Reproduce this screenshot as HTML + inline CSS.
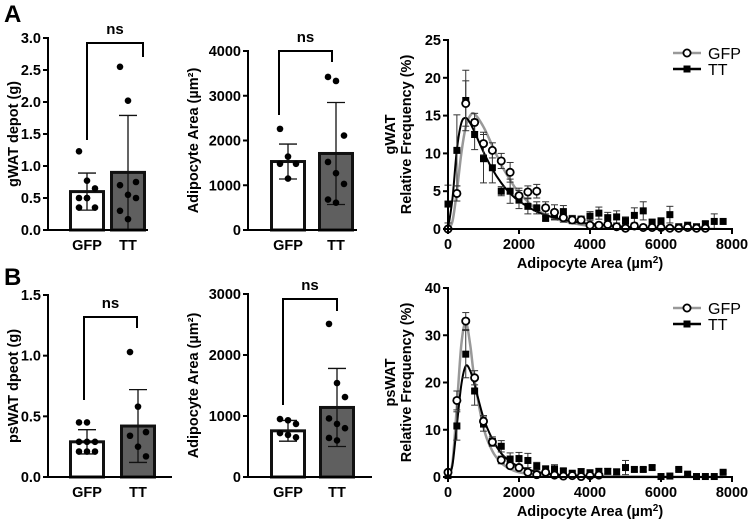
<!DOCTYPE html>
<html><head><meta charset="utf-8">
<style>
body{margin:0;background:#fff;}
svg{display:block;font-family:"Liberation Sans",Arial,sans-serif;font-weight:bold;}
</style></head>
<body>
<svg id="fig" width="750" height="525" viewBox="0 0 750 525" xmlns="http://www.w3.org/2000/svg">
<text x="4" y="22" font-size="24">A</text>
<text x="4" y="285" font-size="24">B</text>
</svg>
<script>
// ---- data ----
const groups = ["GFP","TT"];
const a1Means = [0.6, 0.9];
const a1Err = [0.29, 0.89];
const a1GfpPts = [1.23,0.77,0.65,0.5,0.5,0.35,0.35,0.5];
const a1TtPts = [2.55,2.02,0.75,0.7,0.55,0.5,0.3,0.17];
const a1Ticks = ["0.0","0.5","1.0","1.5","2.0","2.5","3.0"];
const a2Means = [1530, 1710];
const a2Err = [390, 1140];
const a2GfpPts = [2260,1640,1480,1480,1150];
const a2TtPts = [3420,3330,2110,1520,1270,1030,680,610];
const a2Ticks = ["0","1000","2000","3000","4000"];
const b1Means = [0.29, 0.42];
const b1Err = [0.1, 0.3];
const b1GfpPts = [0.45,0.45,0.29,0.29,0.29,0.21,0.21,0.21];
const b1TtPts = [1.03,0.58,0.37,0.34,0.25,0.17];
const b1Ticks = ["0.0","0.5","1.0","1.5"];
const b2Means = [757, 1140];
const b2Err = [170, 640];
const b2GfpPts = [950,930,870,720,690,650];
const b2TtPts = [2510,1540,1310,960,870,800,640,600];
const b2Ticks = ["0","1000","2000","3000"];

const binX = [0,250,500,750,1000,1250,1500,1750,2000,2250,2500,2750,3000,3250,3500,3750,4000,4250,4500,4750,5000,5250,5500,5750,6000,6250,6500,6750,7000,7250,7500,7750];
const aGfp = [0,4.7,16.6,14.1,11.3,10.4,9,7.5,4.4,4.9,5,2.8,2.2,1.5,1.2,1.2,0.5,0.5,0.6,0.3,0.1,0.4,0.2,0.2,0.2,0.1,0.1,0.2,0.1,0.1];
const aGfpErr = [0,1,3,1.2,1.5,1,1,1.3,1,0.8,0.9,0.8,1,0.6,0.5,0.5,0.3,0.3,0.3,0.2,0.1,0.2,0.1,0.1,0.1,0.1,0.1,0.1,0.1,0.1];
const aTt = [3.3,10.4,17,12.5,9.3,8.1,5,5,3.9,3,2.8,1.4,1.9,2.3,1.3,1.2,1.7,2.1,1.5,1.6,1.1,1.8,2.4,0.9,1.0,1.9,0.3,0.5,0.3,0.7,1.0,1.0];
const aTtErr = [2.5,4.7,4,2,3.2,2,0.6,1.6,1.2,1,0.8,0.3,0.6,0.8,0.5,0.5,0.6,0.8,0.7,0.8,0.5,1,1.2,0.4,0.5,1.1,0.2,0.2,0.2,0.3,1,0.1];
const aGfpFitX = [0,125,250,375,500,625,750,1000,1250,1500,1750,2000,2500,3000,3500,4000,5000,6000,7250];
const aGfpFitY = [0,1,5,10,13.5,15,15.2,13.5,11,8.5,6.5,4.8,2.6,1.4,0.8,0.4,0.1,0.02,0];
const aTtFitX = [0,125,250,375,500,625,750,1000,1250,1500,1750,2000,2500,3000,3500,4000,5000,6000,7750];
const aTtFitY = [0,4,10.5,14,14.7,14,12.8,10.2,7.9,6.1,4.7,3.7,2.3,1.5,1,0.7,0.3,0.1,0];
const bGfp = [1,16.2,33,21,11.8,7.4,3.6,2.4,2.0,1.0,0.5,1.0,0.4,0.2,0.3,0.1,0.3,0.4];
const bGfpErr = [0.5,2,1.8,1.5,1.2,0.8,0.8,0.5,0.5,0.4,0.3,0.3,0.2,0.1,0.2,0.1,0.1,0.2];
const bTt = [0.3,10.8,26,18.2,11.2,7.5,6.5,3.8,3.9,3.5,2.3,1.6,1.7,1.3,0.8,1.1,0.9,1.2,1.2,1.1,2.0,1.6,1.6,2.0,0.1,0.2,1.6,0.6,0.1,0.1,0.1,1.0];
const bTtErr = [0.3,3,5,3,1.5,1,1.2,1.3,1.3,1.5,0.8,0.8,0.9,0.5,0.4,0.7,0.6,0.6,0.6,0.6,1.5,0.5,0.4,0.4,0.1,0.1,0.3,0.3,0.1,0.1,0.1,0.3];
const bGfpFitX = [0,125,250,375,500,625,750,1000,1250,1500,1750,2000,2500,3000,4000,5000,7750];
const bGfpFitY = [0,3,15,28,32.8,28,20.5,10.5,5.5,3,1.7,1,0.4,0.15,0.02,0,0];
const bTtFitX = [0,125,250,375,500,625,750,1000,1250,1500,1750,2000,2500,3000,4000,5000,7750];
const bTtFitY = [0,2.5,11,19.5,23.5,22.5,19.5,12.5,8,5,3.3,2.2,1.1,0.5,0.15,0.05,0];
const freqXTicks = ["0","2000","4000","6000","8000"];

// ---- helpers ----
const svg = document.getElementById('fig');
const NS = 'http://www.w3.org/2000/svg';
const TICK = 14.5, TITLE = 14.5;
function mk(tag, attrs, parent){
  const e = document.createElementNS(NS, tag);
  for (const k in attrs) e.setAttribute(k, attrs[k]);
  (parent||svg).appendChild(e);
  return e;
}
function txt(x,y,s,size,anchor,parent){
  const t = mk('text',{x:x,y:y,'font-size':size,'text-anchor':anchor||'middle'},parent);
  t.textContent = s;
  return t;
}

function barChart(cfg){
  const g = mk('g',{});
  
  
  const vmax = parseFloat(cfg.ticks[cfg.ticks.length-1]);
  const y = v => cfg.y0 - (v/vmax)*(cfg.y0-cfg.yTop);
  cfg.means.forEach((m,i)=>{
    const bx = cfg.barX[i];
    const r = mk('rect',{x:bx+1.5,y:y(m),width:cfg.barW-3,height:cfg.y0-y(m),fill:i?'#5f5f5f':'#fff',stroke:'#111','stroke-width':3},g);
    
    
    const cx = bx+cfg.barW/2;
    const hi = y(m+cfg.err[i]), lo = y(Math.max(0,m-cfg.err[i]));
    mk('line',{x1:cx,x2:cx,y1:hi,y2:lo,stroke:'#111','stroke-width':1.3},g);
    mk('line',{x1:cx-9,x2:cx+9,y1:hi,y2:hi,stroke:'#111','stroke-width':1.3},g);
    mk('line',{x1:cx-9,x2:cx+9,y1:lo,y2:lo,stroke:'#111','stroke-width':1.3},g);
    const pts = cfg.pts[i];
    pts.forEach((p,j)=>{
      const off = pts.length>1 ? ((j%3)-1)*8 : 0;
      const c = mk('circle',{cx:cx+off,cy:y(p),r:3.3,fill:'#000'},g);
      
      
    });
    const l = txt(cx, cfg.y0+20, groups[i], TICK, 'middle', g);
    
    
  });
  mk('line',{x1:cfg.x0,x2:cfg.x0,y1:cfg.yTop-1,y2:cfg.y0+1,stroke:'#000','stroke-width':2},g);
  mk('line',{x1:cfg.x0-1,x2:cfg.xEnd,y1:cfg.y0,y2:cfg.y0,stroke:'#000','stroke-width':2},g);
  cfg.ticks.forEach(t=>{
    const ty = y(parseFloat(t));
    mk('line',{x1:cfg.x0-5,x2:cfg.x0,y1:ty,y2:ty,stroke:'#000','stroke-width':2},g);
    const tl = txt(cfg.x0-7, ty+5, t, TICK, 'end', g);
    
    
  });
  const yl = txt(0,0,cfg.ylabel,TITLE,'middle',g);
  yl.setAttribute('transform','translate('+cfg.ylx+','+((cfg.yTop+cfg.y0)/2)+') rotate(-90)');
  
  
  const b = cfg.br;
  const br = mk('path',{d:`M${b.l},${b.lb} V${b.top} H${b.r} V${b.rb}`,fill:'none',stroke:'#000','stroke-width':2},g);
  
  
  const ns = txt((b.l+b.r)/2, b.top-9, 'ns', 15, 'middle', g);
  
  
}

function smoothPath(pts){
  let d = 'M'+pts[0][0]+','+pts[0][1];
  for (let i=0;i<pts.length-1;i++){
    const p0=pts[i-1]||pts[i], p1=pts[i], p2=pts[i+1], p3=pts[i+2]||p2;
    const c1=[p1[0]+(p2[0]-p0[0])/6, p1[1]+(p2[1]-p0[1])/6];
    const c2=[p2[0]-(p3[0]-p1[0])/6, p2[1]-(p3[1]-p1[1])/6];
    d += ` C${c1[0]},${c1[1]} ${c2[0]},${c2[1]} ${p2[0]},${p2[1]}`;
  }
  return d;
}

function freqChart(cfg){
  const g = mk('g',{});
  
  
  const xs = v => cfg.x0 + v/8000*(cfg.x1-cfg.x0);
  const ymax = cfg.yTicks[cfg.yTicks.length-1];
  const ys = v => cfg.y0 - v/ymax*(cfg.y0-cfg.yTop);
  const gf = mk('path',{d:smoothPath(cfg.gfpFitX.map((x,i)=>[xs(x),ys(cfg.gfpFitY[i])])),fill:'none',stroke:'#999','stroke-width':2.5},g);
  
  
  const tf = mk('path',{d:smoothPath(cfg.ttFitX.map((x,i)=>[xs(x),ys(cfg.ttFitY[i])])),fill:'none',stroke:'#000','stroke-width':2},g);
  
  
  function errs(vals, er){
    vals.forEach((v,i)=>{
      const cx = xs(binX[i]); const hi=ys(v+er[i]), lo=ys(Math.max(0,v-er[i]));
      if (er[i] < 0.15) return;
      mk('line',{x1:cx,x2:cx,y1:hi,y2:lo,stroke:'#333','stroke-width':1},g);
      mk('line',{x1:cx-3.5,x2:cx+3.5,y1:hi,y2:hi,stroke:'#333','stroke-width':1},g);
      mk('line',{x1:cx-3.5,x2:cx+3.5,y1:lo,y2:lo,stroke:'#333','stroke-width':1},g);
    });
  }
  errs(cfg.tt, cfg.ttErr); errs(cfg.gfp, cfg.gfpErr);
  cfg.tt.forEach((v,i)=>{
    const r = mk('rect',{x:xs(binX[i])-3.5,y:ys(v)-3.5,width:7,height:7,fill:'#000'},g);
    
    
  });
  cfg.gfp.forEach((v,i)=>{
    const c = mk('circle',{cx:xs(binX[i]),cy:ys(v),r:3.6,fill:'#fff',stroke:'#000','stroke-width':1.8},g);
    
    
  });
  mk('line',{x1:cfg.x0,x2:cfg.x0,y1:cfg.yTop-1,y2:cfg.y0+1,stroke:'#000','stroke-width':2},g);
  mk('line',{x1:cfg.x0-1,x2:cfg.x1+1,y1:cfg.y0,y2:cfg.y0,stroke:'#000','stroke-width':2},g);
  cfg.yTicks.forEach(t=>{
    const ty=ys(t);
    mk('line',{x1:cfg.x0-5,x2:cfg.x0,y1:ty,y2:ty,stroke:'#000','stroke-width':2},g);
    const tl = txt(cfg.x0-7, ty+5, String(t), TICK, 'end', g);
    
    
  });
  freqXTicks.forEach(t=>{
    const tx=xs(parseFloat(t));
    mk('line',{x1:tx,x2:tx,y1:cfg.y0,y2:cfg.y0+5,stroke:'#000','stroke-width':2},g);
    const tl = txt(tx, cfg.y0+20, t, TICK, 'middle', g);
    
    
  });
  const xt = mk('text',{x:(cfg.x0+cfg.x1)/2,y:cfg.y0+39,'font-size':TITLE,'text-anchor':'middle'},g);
  xt.innerHTML = 'Adipocyte Area (µm<tspan font-size="10" dy="-5">2</tspan><tspan dy="5">)</tspan>';
  
  
  const cy = (cfg.yTop+cfg.y0)/2;
  const y1 = txt(0,0,cfg.depot,TITLE,'middle',g);
  y1.setAttribute('transform','translate('+(cfg.x0-53)+','+cy+') rotate(-90)');
  
  
  const y2 = txt(0,0,'Relative Frequency (%)',TITLE,'middle',g);
  y2.setAttribute('transform','translate('+(cfg.x0-37)+','+cy+') rotate(-90)');
  
  
  const lg = mk('g',{},g);
  
  
  mk('line',{x1:cfg.lx-14,x2:cfg.lx+14,y1:cfg.ly,y2:cfg.ly,stroke:'#999','stroke-width':2.5},lg);
  mk('circle',{cx:cfg.lx,cy:cfg.ly,r:3.6,fill:'#fff',stroke:'#000','stroke-width':1.8},lg);
  txt(cfg.lx+21, cfg.ly+6, 'GFP', 16, 'start', lg).setAttribute('font-weight','normal');
  mk('line',{x1:cfg.lx-14,x2:cfg.lx+14,y1:cfg.ly+16,y2:cfg.ly+16,stroke:'#000','stroke-width':2.5},lg);
  mk('rect',{x:cfg.lx-3.5,y:cfg.ly+12.5,width:7,height:7,fill:'#000'},lg);
  txt(cfg.lx+21, cfg.ly+22, 'TT', 16, 'start', lg).setAttribute('font-weight','normal');
}

barChart({name:'gwat-depot-chart',x0:48,xEnd:148,yTop:38,y0:230,barX:[69,110],barW:36,means:a1Means,err:a1Err,pts:[a1GfpPts,a1TtPts],ticks:a1Ticks,ylabel:'gWAT depot (g)',ylx:18,br:{l:87,r:143,top:43,lb:140,rb:57}});
barChart({name:'gwat-area-chart',x0:248,xEnd:357,yTop:51,y0:230,barX:[270,318],barW:36,means:a2Means,err:a2Err,pts:[a2GfpPts,a2TtPts],ticks:a2Ticks,ylabel:'Adipocyte Area (µm²)',ylx:198,br:{l:279,r:332,top:51,lb:115,rb:62}});
barChart({name:'pswat-depot-chart',x0:48,xEnd:172,yTop:295,y0:477,barX:[69,120],barW:36,means:b1Means,err:b1Err,pts:[b1GfpPts,b1TtPts],ticks:b1Ticks,ylabel:'psWAT dpeot (g)',ylx:18,br:{l:84,r:137,top:317,lb:400,rb:328}});
barChart({name:'pswat-area-chart',x0:248,xEnd:372,yTop:294,y0:477,barX:[270,319],barW:36,means:b2Means,err:b2Err,pts:[b2GfpPts,b2TtPts],ticks:b2Ticks,ylabel:'Adipocyte Area (µm²)',ylx:198,br:{l:283,r:337,top:299,lb:405,rb:311}});

freqChart({name:'gwat-frequency-chart',x0:448,x1:732,yTop:40,y0:229,yTicks:[0,5,10,15,20,25],gfp:aGfp,gfpErr:aGfpErr,tt:aTt,ttErr:aTtErr,gfpFitX:aGfpFitX,gfpFitY:aGfpFitY,ttFitX:aTtFitX,ttFitY:aTtFitY,depot:'gWAT',lx:687,ly:53});
freqChart({name:'pswat-frequency-chart',x0:448,x1:732,yTop:288,y0:477,yTicks:[0,10,20,30,40],gfp:bGfp,gfpErr:bGfpErr,tt:bTt,ttErr:bTtErr,gfpFitX:bGfpFitX,gfpFitY:bGfpFitY,ttFitX:bTtFitX,ttFitY:bTtFitY,depot:'psWAT',lx:687,ly:308});
</script>
</body></html>
